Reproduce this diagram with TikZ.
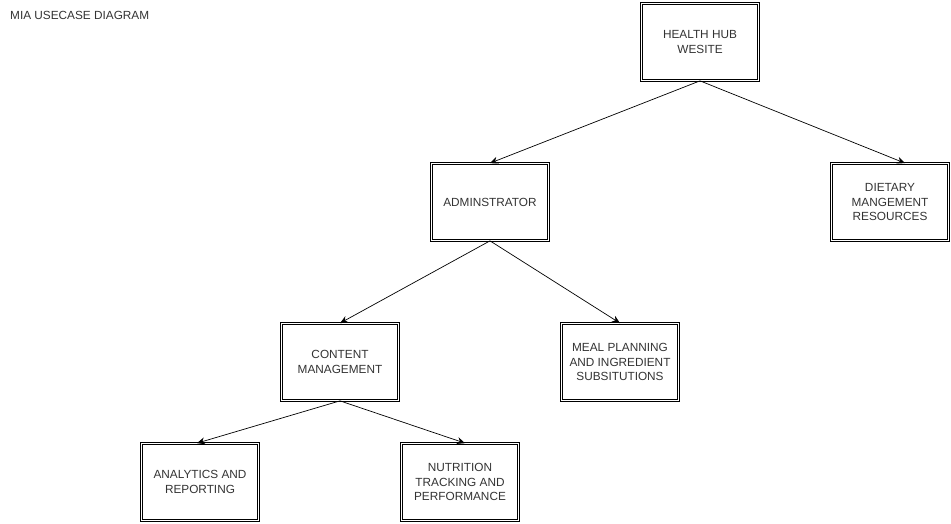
\documentclass[tikz,border=0pt]{standalone}
\usepackage{fontspec}
\setmainfont{Liberation Sans}
\usetikzlibrary{arrows.meta}
\begin{document}
\begin{tikzpicture}[x=1pt,y=-1pt,
  box/.style={draw=black, double, double distance=1.8pt, line width=0.7pt,
    minimum width=117pt, minimum height=77pt, inner sep=2pt, align=center,
    font=\fontsize{11.8}{14.8}\selectfont, text=black!80},
  conn/.style={-{Stealth[length=8pt,width=7pt]}, line width=0.7pt}]
\useasboundingbox (0,0) rectangle (951,523);
\node[anchor=west, inner sep=0pt, font=\fontsize{11.8}{14}\selectfont, text=black!80] (title) at (10,15) {MIA USECASE DIAGRAM};
\node[box] (hub) at (700,42) {HEALTH HUB\\WESITE};
\node[box] (admin) at (490,202) {ADMINSTRATOR};
\node[box] (diet) at (890,202) {DIETARY\\MANGEMENT\\RESOURCES};
\node[box] (content) at (340,362) {CONTENT\\MANAGEMENT};
\node[box] (meal) at (620,362) {MEAL PLANNING\\AND INGREDIENT\\SUBSITUTIONS};
\node[box] (anal) at (200,482) {ANALYTICS AND\\REPORTING};
\node[box] (nutr) at (460,482) {NUTRITION\\TRACKING AND\\PERFORMANCE};
\draw[conn] (hub.south) -- (admin.north);
\draw[conn] (hub.south) -- ([xshift=15pt]diet.north);
\draw[conn] (admin.south) -- (content.north);
\draw[conn] (admin.south) -- (meal.north);
\draw[conn] (content.south) -- ([xshift=-3pt]anal.north);
\draw[conn] (content.south) -- ([xshift=5pt]nutr.north);
\end{tikzpicture}
\end{document}
